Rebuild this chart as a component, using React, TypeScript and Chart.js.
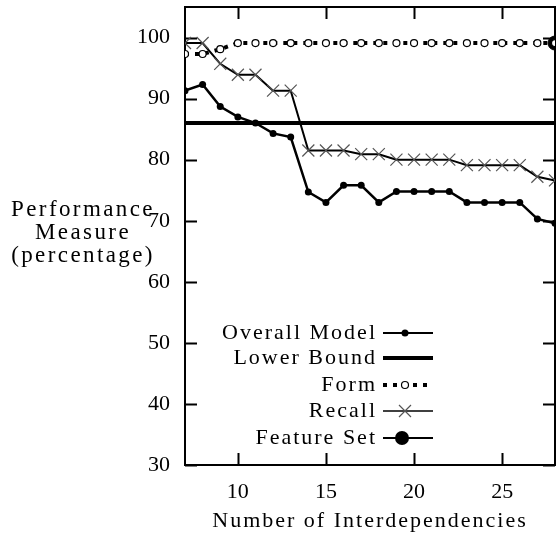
import React, { useEffect, useRef } from 'react';
import { Chart, registerables } from 'chart.js';

Chart.register(...registerables);

const xValues = [7, 8, 9, 10, 11, 12, 13, 14, 15, 16, 17, 18, 19, 20, 21, 22, 23, 24, 25, 26, 27, 28];
const overallModel = [91.3, 92.3, 88.7, 87.0, 86.0, 84.3, 83.7, 74.7, 73.0, 75.8, 75.8, 73.0, 74.8, 74.8, 74.8, 74.8, 73.0, 73.0, 73.0, 73.0, 70.3, 69.6];
const recall = [99.1, 99.1, 95.7, 93.9, 93.9, 91.3, 91.3, 81.5, 81.5, 81.5, 80.9, 80.9, 80.0, 80.0, 80.0, 80.0, 79.1, 79.1, 79.1, 79.1, 77.2, 76.6];
const form = [97.3, 97.3, 98.1, 99.1, 99.1, 99.1, 99.1, 99.1, 99.1, 99.1, 99.1, 99.1, 99.1, 99.1, 99.1, 99.1, 99.1, 99.1, 99.1, 99.1, 99.1, 99.1];
const lowerBoundX = [7, 28];
const lowerBound = [86, 86];
const featureSetX = [28];
const featureSet = [99.1];

const xTicks = [10, 15, 20, 25];
const yTicks = [30, 40, 50, 60, 70, 80, 90, 100];
const legendLabels = ['Overall Model', 'Lower Bound', 'Form', 'Recall', 'Feature Set'];
const xTitle = 'Number of Interdependencies';
const yTitleLines = ['Performance', 'Measure', '(percentage)'];

const FONT = '"Liberation Serif", "Times New Roman", serif';

const pts = (xs: number[], ys: number[]) => xs.map((x, i) => ({ x, y: ys[i] }));

const decorPlugin = {
  id: 'decor',
  beforeDatasetsDraw(chart: any) {
    const { ctx, chartArea: a, scales } = chart;
    ctx.save();
    ctx.strokeStyle = '#000';
    ctx.lineWidth = 2;
    ctx.strokeRect(a.left, a.top, a.right - a.left, a.bottom - a.top);
    ctx.lineWidth = 2;
    const tl = 12;
    for (const v of xTicks) {
      const px = Math.round(scales.x.getPixelForValue(v)) + 0.5;
      ctx.beginPath();
      ctx.moveTo(px, a.bottom);
      ctx.lineTo(px, a.bottom - tl);
      ctx.moveTo(px, a.top);
      ctx.lineTo(px, a.top + tl);
      ctx.stroke();
    }
    for (const v of yTicks) {
      const py = Math.round(scales.y.getPixelForValue(v)) + 0.5;
      ctx.beginPath();
      ctx.moveTo(a.left, py);
      ctx.lineTo(a.left + tl, py);
      ctx.moveTo(a.right, py);
      ctx.lineTo(a.right - tl, py);
      ctx.stroke();
    }
    ctx.restore();
  },
  afterDraw(chart: any) {
    const { ctx, chartArea: a } = chart;
    ctx.save();
    ctx.fillStyle = '#000';
    ctx.font = `22px ${FONT}`;
    (ctx as any).letterSpacing = '2px';
    ctx.textBaseline = 'middle';
    ctx.textAlign = 'center';
    ctx.fillText(xTitle, (a.left + a.right) / 2, 521);
    ctx.font = `23px ${FONT}`;
    (ctx as any).letterSpacing = '2.4px';
    const ys = [210, 233, 256];
    yTitleLines.forEach((t, i) => ctx.fillText(t, 83, ys[i]));

    // legend
    ctx.font = `22px ${FONT}`;
    (ctx as any).letterSpacing = '2px';
    const rowY = [333, 358, 385, 411, 438];
    const textRight = 377;
    const s0 = 383;
    const s1 = 433;
    const mid = 405;
    ctx.textAlign = 'right';
    legendLabels.forEach((t, i) => ctx.fillText(t, textRight, rowY[i]));
    (ctx as any).letterSpacing = '0px';
    ctx.strokeStyle = '#000';
    ctx.fillStyle = '#000';
    // overall
    let y = rowY[0];
    ctx.lineWidth = 2;
    ctx.beginPath(); ctx.moveTo(s0, y); ctx.lineTo(s1, y); ctx.stroke();
    ctx.beginPath(); ctx.arc(mid, y, 3.5, 0, Math.PI * 2); ctx.fill();
    // lower bound
    y = rowY[1];
    ctx.lineWidth = 4;
    ctx.beginPath(); ctx.moveTo(s0, y); ctx.lineTo(s1, y); ctx.stroke();
    // form
    y = rowY[2];
    ctx.lineWidth = 4;
    ctx.setLineDash([4, 6]);
    ctx.beginPath(); ctx.moveTo(s0, y); ctx.lineTo(s1, y); ctx.stroke();
    ctx.setLineDash([]);
    ctx.lineWidth = 1.2;
    ctx.fillStyle = '#fff';
    ctx.beginPath(); ctx.arc(mid, y, 3.5, 0, Math.PI * 2); ctx.fill(); ctx.stroke();
    ctx.fillStyle = '#000';
    // recall
    y = rowY[3];
    ctx.lineWidth = 1.5;
    ctx.beginPath(); ctx.moveTo(s0, y); ctx.lineTo(s1, y); ctx.stroke();
    ctx.strokeStyle = '#555';
    ctx.lineWidth = 1.2;
    ctx.beginPath();
    ctx.moveTo(mid - 6, y - 6); ctx.lineTo(mid + 6, y + 6);
    ctx.moveTo(mid - 6, y + 6); ctx.lineTo(mid + 6, y - 6);
    ctx.stroke();
    ctx.strokeStyle = '#000';
    // feature set
    y = rowY[4];
    ctx.lineWidth = 2;
    ctx.beginPath(); ctx.moveTo(s0, y); ctx.lineTo(s1, y); ctx.stroke();
    ctx.beginPath(); ctx.arc(mid - 3, y, 7, 0, Math.PI * 2); ctx.fill();
    ctx.restore();
  },
};

export default function App() {
  const ref = useRef<HTMLCanvasElement | null>(null);
  useEffect(() => {
    if (!ref.current) return;
    const chart = new Chart(ref.current, {
      type: 'line',
      data: {
        datasets: [
          {
            label: legendLabels[1],
            data: pts(lowerBoundX, lowerBound),
            borderColor: '#000',
            borderWidth: 4,
            pointRadius: 0,
          },
          {
            label: legendLabels[2],
            data: pts(xValues, form),
            borderColor: '#000',
            borderWidth: 4,
            borderDash: [4, 6],
            pointRadius: 3.5,
            pointBackgroundColor: '#fff',
            pointBorderColor: '#000',
            pointBorderWidth: 1.2,
          },
          {
            label: legendLabels[3],
            data: pts(xValues, recall),
            borderColor: '#000',
            borderWidth: 2,
            pointStyle: 'crossRot',
            pointRadius: 8.5,
            pointBorderColor: '#555',
            pointBorderWidth: 1.2,
          },
          {
            label: legendLabels[0],
            data: pts(xValues, overallModel),
            borderColor: '#000',
            borderWidth: 2.5,
            pointRadius: 3.5,
            pointBackgroundColor: '#000',
            pointBorderColor: '#000',
            pointBorderWidth: 0,
          },
          {
            label: legendLabels[4],
            data: pts(featureSetX, featureSet),
            borderColor: '#000',
            showLine: false,
            pointRadius: 7,
            pointBackgroundColor: '#000',
            pointBorderColor: '#000',
          },
        ],
      },
      options: {
        animation: false,
        responsive: false,
        layout: { autoPadding: false, padding: { top: 7, right: 2, left: 0, bottom: 0 } },
        plugins: { legend: { display: false }, tooltip: { enabled: false } },
        scales: {
          x: {
            type: 'linear',
            min: 7,
            max: 28,
            grid: { display: false, drawTicks: false },
            border: { display: false },
            afterBuildTicks: (s: any) => { s.ticks = xTicks.map((v) => ({ value: v })); },
            afterFit: (s: any) => {
              s.height = 72;
              s.paddingLeft = 0; s.paddingRight = 0; s.paddingTop = 0; s.paddingBottom = 0;
            },
            ticks: { color: '#000', padding: 14, font: { family: FONT, size: 22 }, maxRotation: 0 },
          },
          y: {
            type: 'linear',
            min: 30,
            max: 105,
            grid: { display: false, drawTicks: false },
            border: { display: false },
            afterBuildTicks: (s: any) => { s.ticks = yTicks.map((v) => ({ value: v })); },
            afterFit: (s: any) => {
              s.width = 185;
              s.paddingLeft = 0; s.paddingRight = 0; s.paddingTop = 0; s.paddingBottom = 0;
            },
            ticks: { color: '#000', padding: 15, font: { family: FONT, size: 22 } },
          },
        },
      },
      plugins: [decorPlugin],
    });
    return () => chart.destroy();
  }, []);
  return (
    <div style={{ position: 'fixed', left: 0, top: 0, width: 557, height: 537, background: '#fff' }}>
      <canvas ref={ref} width={557} height={537} style={{ display: 'block' }} />
    </div>
  );
}
